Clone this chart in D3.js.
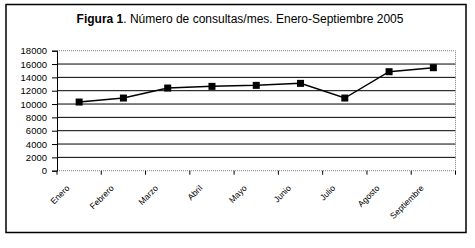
<!DOCTYPE html>
<html>
<head>
<meta charset="utf-8">
<script src="https://cdn.jsdelivr.net/npm/d3@7"></script>
<style>
  body { margin: 0; background: #fff; }
  svg { display: block; font-family: "Liberation Sans", Arial, sans-serif; }
</style>
</head>
<body>
<div id="chart"></div>
<script>
// datos
var meses = ["Enero", "Febrero", "Marzo", "Abril", "Mayo", "Junio", "Julio", "Agosto", "Septiembre"];
var consultas = [10300, 10900, 12400, 12650, 12800, 13100, 10900, 14850, 15450];
var yTicks = [0, 2000, 4000, 6000, 8000, 10000, 12000, 14000, 16000, 18000];

var width = 475, height = 248;
var plot = {left: 57, right: 455.5, top: 50.7, bottom: 170.7};

var svg = d3.select("#chart").append("svg")
    .attr("width", width)
    .attr("height", height);

// marco exterior
svg.append("rect")
    .attr("x", 6).attr("y", 4.5)
    .attr("width", 460).attr("height", 228)
    .attr("fill", "none")
    .attr("stroke", "#000")
    .attr("stroke-width", 1.5);

// titulo
var title = svg.append("text")
    .attr("x", 240).attr("y", 23)
    .attr("text-anchor", "middle")
    .style("font-size", "12px");
title.append("tspan").style("font-weight", "bold").text("Figura 1");
title.append("tspan").text(". Número de consultas/mes. Enero-Septiembre 2005");

var x = d3.scaleBand().domain(meses).range([plot.left, plot.right]);
var y = d3.scaleLinear().domain([0, 18000]).range([plot.bottom, plot.top]);

// lineas de division
svg.append("g")
  .selectAll("line")
  .data(yTicks.filter(function(d) { return d > 0 && d < 18000; }))
  .enter().append("line")
    .attr("x1", plot.left).attr("x2", plot.right)
    .attr("y1", function(d) { return y(d); })
    .attr("y2", function(d) { return y(d); })
    .attr("stroke", "#000")
    .attr("stroke-width", 1);

// borde del area de trazado
svg.append("path")
    .attr("d", "M" + plot.left + "," + plot.top + "H" + plot.right + "V" + plot.bottom + "H" + plot.left)
    .attr("fill", "none")
    .attr("stroke", "#808080")
    .attr("stroke-width", 1)
    .attr("stroke-dasharray", "1,1");

// eje y
var yAxis = svg.append("g")
    .attr("transform", "translate(" + plot.left + ",0)")
    .call(d3.axisLeft(y).tickValues(yTicks).tickSize(5).tickPadding(5).tickFormat(d3.format("d")));
yAxis.select(".domain").attr("stroke", "#000");
yAxis.selectAll("text").style("font-size", "9.5px").attr("fill", "#000");

// eje x (marcas entre categorias)
var bounds = meses.map(function(m) { return x(m); }).concat([plot.right]);
svg.append("g")
  .selectAll("line")
  .data(bounds)
  .enter().append("line")
    .attr("x1", function(d) { return d; }).attr("x2", function(d) { return d; })
    .attr("y1", plot.bottom).attr("y2", plot.bottom + 4)
    .attr("stroke", "#000");

svg.append("g")
  .selectAll("text")
  .data(meses)
  .enter().append("text")
    .attr("transform", function(d) {
      return "translate(" + (x(d) + x.bandwidth() / 2 - 9) + "," + (plot.bottom + 18) + ") rotate(-45)";
    })
    .attr("text-anchor", "end")
    .style("font-size", "8.5px")
    .text(function(d) { return d; });

// serie
var line = d3.line()
    .x(function(d, i) { return x(meses[i]) + x.bandwidth() / 2; })
    .y(function(d) { return y(d); });

svg.append("path")
    .datum(consultas)
    .attr("d", line)
    .attr("fill", "none")
    .attr("stroke", "#000")
    .attr("stroke-width", 1.5);

svg.append("g")
  .selectAll("rect")
  .data(consultas)
  .enter().append("rect")
    .attr("x", function(d, i) { return x(meses[i]) + x.bandwidth() / 2 - 3.5; })
    .attr("y", function(d) { return y(d) - 3.5; })
    .attr("width", 7).attr("height", 7)
    .attr("fill", "#000");
</script>
</body>
</html>
